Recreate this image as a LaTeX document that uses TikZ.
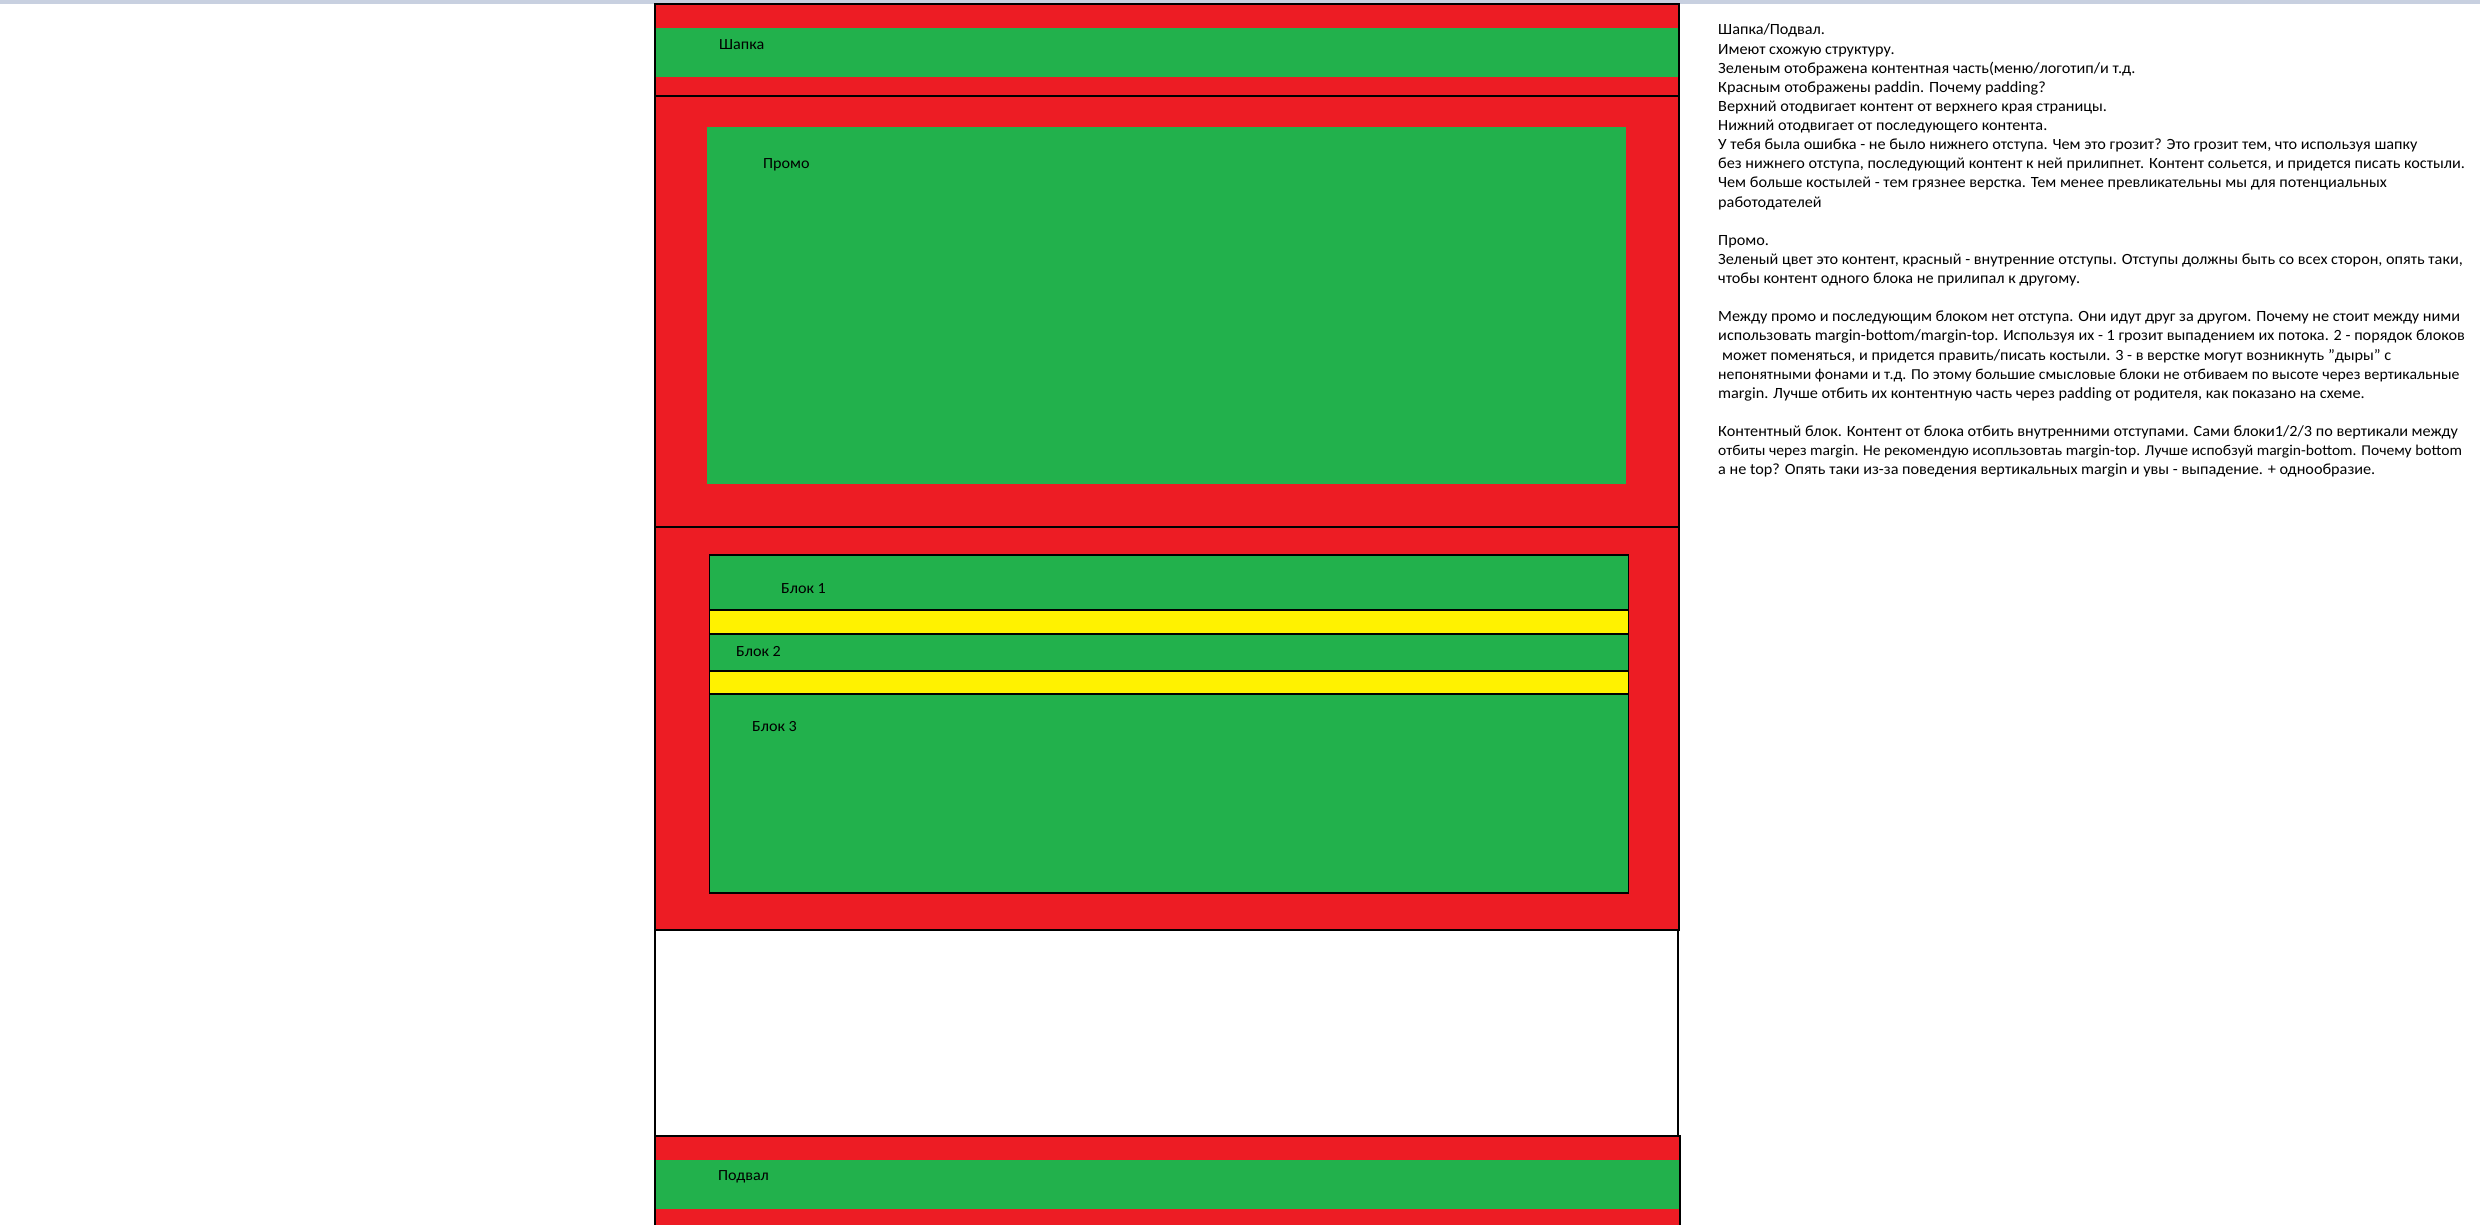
\documentclass[tikz,border=0pt]{standalone}
\usepackage{fontspec}
\setmainfont[FakeStretch=1.04]{Carlito}
\definecolor{pred}{RGB}{237,28,36}
\definecolor{pgreen}{RGB}{34,177,76}
\definecolor{pyellow}{RGB}{255,242,0}
\definecolor{pstrip}{RGB}{200,208,224}
\tikzset{
  redbox/.style={fill=pred,draw=black,line width=1.5pt},
  greenband/.style={fill=pgreen},
  blockbox/.style={fill=pgreen,draw=black,line width=1.2pt},
  gapbox/.style={fill=pyellow,draw=black,line width=1.2pt},
  lbl/.style={anchor=west,inner sep=0pt,font=\fontsize{15.5}{19}\selectfont},
  txt/.style={anchor=base west,inner sep=0pt,font=\fontsize{15.6}{19}\selectfont}
}
\begin{document}
\begin{tikzpicture}[x=1pt,y=-1pt]
\useasboundingbox[fill=white] (0,0) rectangle (2480,1225);
\fill[pstrip] (0,0) rectangle (2480,4);
% header
\path[redbox,line width=2pt] (655,4.5) rectangle (1679,96);
\fill[greenband] (656,28) rectangle (1678,77.5);
\node[lbl] (shapka) at (719,45) {Шапка};
% promo
\path[redbox] (655,96) rectangle (1679,527);
\fill[greenband] (707,127) rectangle (1626,484);
\node[lbl] (promo) at (763,164.5) {Промо};
% content
\path[redbox] (655,527) rectangle (1679,930);
\path[blockbox] (709.5,555) rectangle (1628.5,610);
\path[gapbox] (709.5,610) rectangle (1628.5,634);
\path[blockbox] (709.5,634) rectangle (1628.5,671);
\path[gapbox] (709.5,671) rectangle (1628.5,694);
\path[blockbox] (709.5,694) rectangle (1628.5,893);
\node[lbl] (b1) at (781,589) {Блок 1};
\node[lbl] (b2) at (736,652) {Блок 2};
\node[lbl] (b3) at (752,727) {Блок 3};
% white gap
\draw[line width=1.5pt] (655,930) -- (655,1136);
\draw[line width=1.5pt] (1678,930) -- (1678,1136);
% footer
\path[redbox,line width=2pt] (655,1136) rectangle (1680,1245);
\fill[greenband] (656,1160) rectangle (1679,1209);
\node[lbl] (podval) at (718,1177) {Подвал};
% text
\def\lx{1718}
\def\ly{35}
\def\ls{19.12}
\node[txt] (t1) at (\lx,\ly+0*\ls) {Шапка/Подвал.};
\node[txt] (t2) at (\lx,\ly+1*\ls) {Имеют схожую структуру.};
\node[txt] (t3) at (\lx,\ly+2*\ls) {Зеленым отображена контентная часть(меню/логотип/и т.д.};
\node[txt] (t4) at (\lx,\ly+3*\ls) {Красным отображены paddin. Почему padding?};
\node[txt] (t5) at (\lx,\ly+4*\ls) {Верхний отодвигает контент от верхнего края страницы.};
\node[txt] (t6) at (\lx,\ly+5*\ls) {Нижний отодвигает от последующего контента.};
\node[txt] (t7) at (\lx,\ly+6*\ls) {У тебя была ошибка - не было нижнего отступа. Чем это грозит? Это грозит тем, что используя шапку};
\node[txt] (t8) at (\lx,\ly+7*\ls) {без нижнего отступа, последующий контент к ней прилипнет. Контент сольется, и придется писать костыли.};
\node[txt] (t9) at (\lx,\ly+8*\ls) {Чем больше костылей - тем грязнее верстка. Тем менее превликательны мы для потенциальных};
\node[txt] (t10) at (\lx,\ly+9*\ls) {работодателей};
\node[txt] (t12) at (\lx,\ly+11*\ls) {Промо.};
\node[txt] (t13) at (\lx,\ly+12*\ls) {Зеленый цвет это контент, красный - внутренние отступы. Отступы должны быть со всех сторон, опять таки,};
\node[txt] (t14) at (\lx,\ly+13*\ls) {чтобы контент одного блока не прилипал к другому.};
\node[txt] (t16) at (\lx,\ly+15*\ls) {Между промо и последующим блоком нет отступа. Они идут друг за другом. Почему не стоит между ними};
\node[txt] (t17) at (\lx,\ly+16*\ls) {использовать margin-bottom/margin-top. Используя их - 1 грозит выпадением их потока. 2 - порядок блоков};
\node[txt] (t18) at (\lx+4,\ly+17*\ls) {может поменяться, и придется править/писать костыли. 3 - в верстке могут возникнуть "дыры" с};
\node[txt,font=\fontsize{15.2}{19}\selectfont] (t19) at (\lx,\ly+18*\ls) {непонятными фонами и т.д. По этому большие смысловые блоки не отбиваем по высоте через вертикальные};
\node[txt] (t20) at (\lx,\ly+19*\ls) {margin. Лучше отбить их контентную часть через padding от родителя, как показано на схеме.};
\node[txt] (t22) at (\lx,\ly+21*\ls) {Контентный блок. Контент от блока отбить внутренними отступами. Сами блоки1/2/3 по вертикали между};
\node[txt,font=\fontsize{15.0}{19}\selectfont] (t23) at (\lx,\ly+22*\ls) {отбиты через margin. Не рекомендую исопльзовтаь margin-top. Лучше испобзуй margin-bottom. Почему bottom};
\node[txt] (t24) at (\lx,\ly+23*\ls) {а не top? Опять таки из-за поведения вертикальных margin и увы - выпадение. + однообразие.};
\end{tikzpicture}
\end{document}
